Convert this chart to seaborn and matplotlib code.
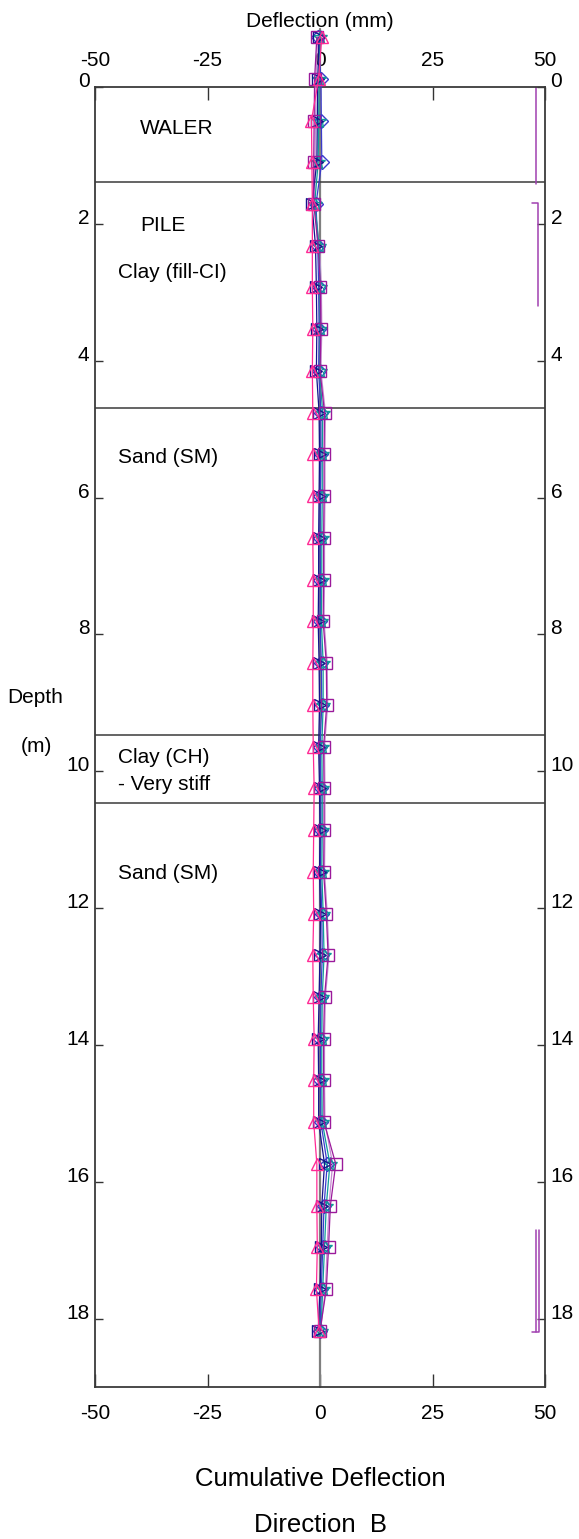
import numpy as np
import pandas as pd
import matplotlib
matplotlib.use("Agg")
import matplotlib.pyplot as plt
import seaborn as sns

# Inclinometer readings: depth of each reading (m) and cumulative deflection (mm)
depth = [-0.73, -0.12, 0.49, 1.10, 1.71, 2.32, 2.93, 3.54, 4.15, 4.76, 5.37,
         5.98, 6.59, 7.20, 7.81, 8.42, 9.03, 9.64, 10.25, 10.86, 11.47, 12.08,
         12.69, 13.30, 13.91, 14.52, 15.13, 15.74, 16.35, 16.96, 17.57, 18.18]

reading_1 = [0.4, -0.3, -1.9, -1.8, -1.7, -1.7, -1.7, -1.6, -1.7, -1.6, -1.6,
             -1.5, -1.6, -1.5, -1.5, -1.6, -1.6, -1.5, -1.3, -1.4, -1.5, -1.4,
             -1.6, -1.5, -1.3, -1.4, -1.4, -0.7, -0.7, -0.6, -0.8, -0.2]
reading_2 = [-0.7, -1.2, -1.3, -1.4, -1.4, -0.4, 0.1, 0.2, 0.0, 1.0, 0.9,
             0.9, 0.8, 0.8, 0.7, 1.4, 1.5, 0.8, 0.9, 0.9, 0.8, 1.4,
             1.8, 1.0, 0.8, 0.8, 0.9, 3.5, 2.3, 1.9, 1.4, 0.0]
reading_3 = [-0.2, -0.5, -0.6, -0.7, -1.8, -1.0, -0.8, -0.7, -0.8, -0.2, -0.1,
             -0.2, -0.3, -0.3, -0.4, -0.2, -0.1, -0.3, -0.1, 0.0, -0.1, 0.1,
             0.0, -0.2, -0.4, -0.3, -0.3, 1.0, 0.4, 0.3, 0.0, -0.4]
reading_4 = [0.0, -0.2, -0.3, -0.4, -1.2, -0.2, 0.0, 0.1, -0.1, 0.6, 0.5,
             0.5, 0.4, 0.4, 0.3, 0.7, 0.7, 0.4, 0.5, 0.5, 0.4, 0.7,
             0.9, 0.5, 0.4, 0.4, 0.5, 2.2, 1.4, 1.0, 0.6, 0.2]
reading_5 = [-0.4, 0.2, 0.3, 0.4, -0.9, -0.5, -0.3, -0.2, -0.3, 0.2, 0.2,
             0.1, 0.0, 0.1, 0.0, 0.3, 0.4, 0.0, 0.2, 0.2, 0.1, 0.4,
             0.5, 0.2, 0.1, 0.1, 0.2, 1.6, 0.9, 0.6, 0.3, 0.0]
reading_6 = [-0.5, -0.9, -1.0, -1.1, -1.2, -0.1, 0.3, 0.4, 0.2, 1.2, 1.1,
             1.1, 1.0, 1.0, 0.9, 1.6, 1.7, 1.0, 1.1, 1.1, 1.0, 1.6,
             2.0, 1.2, 1.0, 1.0, 1.1, 2.8, 2.0, 1.6, 1.2, 0.1]

# Soil / structure layers
layer_bounds = [1.39, 4.69, 9.47, 10.47]
layer_names = ["WALER", "PILE", "Clay (fill-CI)", "Sand (SM)",
               "Clay (CH)", "- Very stiff", "Sand (SM)"]
layer_label_depth = [0.69, 2.10, 2.79, 5.49, 9.88, 10.28, 11.58]
layer_label_x = [-40, -40, -45, -45, -45, -45, -45]

# Depth ranges marked along the right edge
bracket_spans = [(-0.09, 1.42), (1.69, 3.20), (16.70, 18.20)]

x_ticks = [-50, -25, 0, 25, 50]
y_ticks = [0, 2, 4, 6, 8, 10, 12, 14, 16, 18]

sns.set_style("white")
plt.rcParams["font.family"] = ["Liberation Sans", "DejaVu Sans"]
plt.rcParams["text.color"] = "black"
plt.rcParams["xtick.color"] = "black"
plt.rcParams["ytick.color"] = "black"
plt.rcParams["xtick.labelcolor"] = "black"
plt.rcParams["ytick.labelcolor"] = "black"

W, H = 579, 1539
fig = plt.figure(figsize=(W / 100, H / 100), dpi=100)
ax = fig.add_axes([95 / W, 1 - 1387 / H, 450 / W, 1300 / H])

# zero reference line
ax.plot([0, 0], [-0.85, 19], color="#7f7f7f", lw=1.6, clip_on=False, zorder=1)

series = [
    (reading_6, "#c58ad0", None, 0),
    (reading_5, "#3a3acc", "D", 7),
    (reading_4, "#0f9a9a", "*", 10),
    (reading_3, "#14148c", ">", 8),
    (reading_2, "#9b1a9b", "s", 8),
    (reading_1, "#ff2a95", "^", 9),
]
for vals, col, mk, ms in series:
    df = pd.DataFrame({"defl": vals, "depth": depth})
    kw = dict(color=col, lw=0.9, clip_on=False, zorder=3)
    if mk is not None:
        kw.update(marker=mk, markersize=ms, markerfacecolor="none",
                  markeredgecolor=col, markeredgewidth=1.0)
    sns.lineplot(data=df, x="defl", y="depth", orient="y", sort=False,
                 ax=ax, **kw)

for d in layer_bounds:
    ax.axhline(d, color="#3a3a3a", lw=1.1, zorder=2)

for name, d, x in zip(layer_names, layer_label_depth, layer_label_x):
    ax.text(x, d, name, fontsize=15, va="baseline", ha="left", color="black")

bracket_col = "#a040b0"
for i, (d0, d1) in enumerate(bracket_spans):
    if i < 2:
        xl = 48.0 if i == 0 else 48.4
        ax.plot([47.1, xl, xl], [d0, d0, d1], color=bracket_col, lw=1.1)
    else:
        ax.plot([47.1, 48.6, 48.6], [d1, d1, d0], color=bracket_col, lw=1.1)
        ax.plot([47.9, 47.9], [d1, d0], color=bracket_col, lw=1.1)

ax.set_xlim(-50, 50)
ax.set_ylim(19, 0)
ax.set_xticks(x_ticks)
ax.set_yticks(y_ticks)
ax.set_xticklabels([str(v) for v in x_ticks])
ax.set_yticklabels([str(v) for v in y_ticks])
ax.set_xlabel("")
ax.set_ylabel("")
ax.tick_params(axis="x", direction="in", length=9.5, width=1, top=True,
               bottom=True, labeltop=True, labelbottom=True, pad=12,
               labelsize=15, color="#333333", labelcolor="black")
ax.tick_params(axis="y", direction="in", length=5.8, width=1, left=True,
               right=True, labelleft=True, labelright=True, pad=4,
               labelsize=15, color="#333333", labelcolor="black")
for t in ax.yaxis.get_major_ticks():
    t.label1.set_va("baseline")
    t.label2.set_va("baseline")
for s in ax.spines.values():
    s.set_color("#3a3a3a")
    s.set_linewidth(1.3)

fig.text(320 / W, 1 - 27 / H, "Deflection (mm)", fontsize=15,
         ha="center", va="baseline")
fig.text(35 / W, 1 - 703 / H, "Depth", fontsize=15, ha="center", va="baseline")
fig.text(36 / W, 1 - 752 / H, "(m)", fontsize=15, ha="center", va="baseline")
fig.text(320 / W, 1 - 1486 / H, "Cumulative Deflection", fontsize=18.5,
         ha="center", va="baseline")
fig.text(320 / W, 1 - 1532 / H, "Direction  B", fontsize=18.5,
         ha="center", va="baseline")

fig.savefig("out.png", dpi=100)
